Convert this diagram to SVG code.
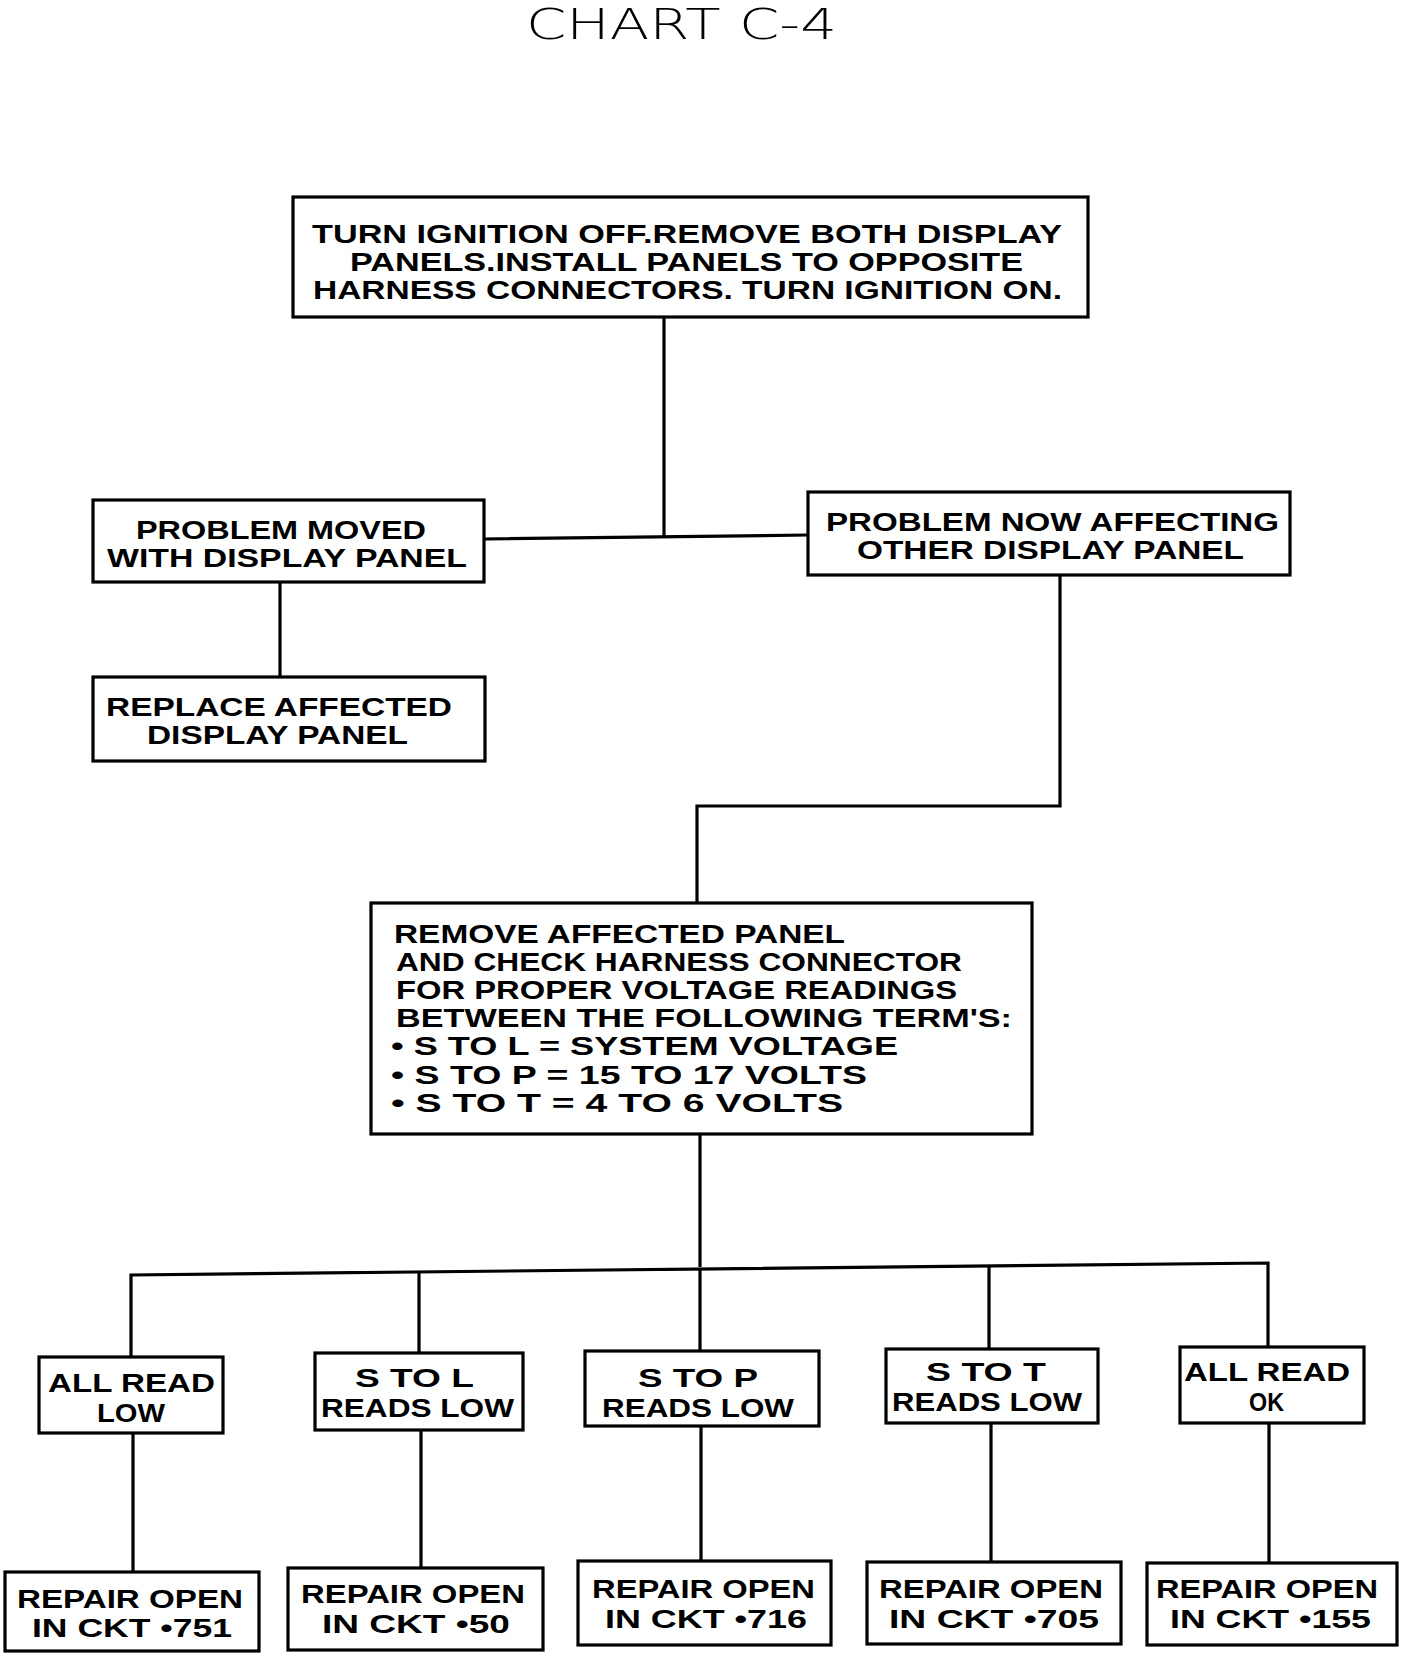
<svg xmlns="http://www.w3.org/2000/svg" width="1408" height="1656" viewBox="0 0 1408 1656">
<style>
.b{fill:#fff;stroke:#000;stroke-width:3.2}
.t{font-family:"Liberation Sans",Arial,sans-serif;font-weight:bold;font-size:25px;fill:#000}
.c{fill:none;stroke:#000;stroke-width:3.2}
.title{font-family:"DejaVu Sans","Liberation Sans",sans-serif;font-weight:200;font-size:42px;fill:#000}
</style>
<rect width="1408" height="1656" fill="#fff"/>
<text class="title" x="526" y="39" textLength="311" lengthAdjust="spacingAndGlyphs">CHART C-4</text>
<g id="connectors">
<path class="c" d="M664 317V537M484 539L808 535"/>
<path class="c" d="M280 582V677"/>
<path class="c" d="M1060 575V806H697V904"/>
<path class="c" d="M700 1134V1267"/>
<path class="c" d="M131 1357V1275L1268 1263V1347"/>
<path class="c" d="M419 1353V1272M700 1351V1269M989 1349V1266"/>
<path class="c" d="M133 1433V1572M421 1430V1568M701 1426V1561M991 1423V1562M1269 1423V1563"/>
</g>
<g id="n1"><rect class="b" x="293" y="197" width="795" height="120"/>
<text class="t" x="312" y="243" textLength="750" lengthAdjust="spacingAndGlyphs">TURN IGNITION OFF.REMOVE BOTH DISPLAY</text>
<text class="t" x="350" y="271" textLength="673" lengthAdjust="spacingAndGlyphs">PANELS.INSTALL PANELS TO OPPOSITE</text>
<text class="t" x="313" y="299" textLength="749" lengthAdjust="spacingAndGlyphs">HARNESS CONNECTORS. TURN IGNITION ON.</text></g>
<g id="n2"><rect class="b" x="93" y="500" width="391" height="82"/>
<text class="t" x="136" y="539" textLength="290" lengthAdjust="spacingAndGlyphs">PROBLEM MOVED</text>
<text class="t" x="107" y="567" textLength="360" lengthAdjust="spacingAndGlyphs">WITH DISPLAY PANEL</text></g>
<g id="n3"><rect class="b" x="93" y="677" width="392" height="84"/>
<text class="t" x="106" y="716" textLength="346" lengthAdjust="spacingAndGlyphs">REPLACE AFFECTED</text>
<text class="t" x="147" y="744" textLength="261" lengthAdjust="spacingAndGlyphs">DISPLAY PANEL</text></g>
<g id="n4"><rect class="b" x="808" y="492" width="482" height="83"/>
<text class="t" x="826" y="531" textLength="453" lengthAdjust="spacingAndGlyphs">PROBLEM NOW AFFECTING</text>
<text class="t" x="857" y="559" textLength="387" lengthAdjust="spacingAndGlyphs">OTHER DISPLAY PANEL</text></g>
<g id="n5"><rect class="b" x="371" y="903" width="661" height="231"/>
<text class="t" x="394" y="943" textLength="451" lengthAdjust="spacingAndGlyphs">REMOVE AFFECTED PANEL</text>
<text class="t" x="396" y="971" textLength="566" lengthAdjust="spacingAndGlyphs">AND CHECK HARNESS CONNECTOR</text>
<text class="t" x="396" y="999" textLength="561" lengthAdjust="spacingAndGlyphs">FOR PROPER VOLTAGE READINGS</text>
<text class="t" x="396" y="1027" textLength="616" lengthAdjust="spacingAndGlyphs">BETWEEN THE FOLLOWING TERM'S:</text>
<text class="t" x="391" y="1055" textLength="507" lengthAdjust="spacingAndGlyphs">• S TO L = SYSTEM VOLTAGE</text>
<text class="t" x="391" y="1084" textLength="476" lengthAdjust="spacingAndGlyphs">• S TO P = 15 TO 17 VOLTS</text>
<text class="t" x="391" y="1112" textLength="452" lengthAdjust="spacingAndGlyphs">• S TO T = 4 TO 6 VOLTS</text></g>
<g id="n6"><rect class="b" x="39" y="1357" width="184" height="76"/>
<text class="t" x="48" y="1392" textLength="167" lengthAdjust="spacingAndGlyphs">ALL READ</text>
<text class="t" x="97" y="1422" textLength="68" lengthAdjust="spacingAndGlyphs">LOW</text></g>
<g id="n7"><rect class="b" x="315" y="1353" width="208" height="77"/>
<text class="t" x="355" y="1387" textLength="119" lengthAdjust="spacingAndGlyphs">S TO L</text>
<text class="t" x="321" y="1417" textLength="193" lengthAdjust="spacingAndGlyphs">READS LOW</text></g>
<g id="n8"><rect class="b" x="585" y="1351" width="234" height="75"/>
<text class="t" x="638" y="1387" textLength="120" lengthAdjust="spacingAndGlyphs">S TO P</text>
<text class="t" x="602" y="1417" textLength="192" lengthAdjust="spacingAndGlyphs">READS LOW</text></g>
<g id="n9"><rect class="b" x="886" y="1349" width="212" height="74"/>
<text class="t" x="926" y="1381" textLength="120" lengthAdjust="spacingAndGlyphs">S TO T</text>
<text class="t" x="892" y="1411" textLength="190" lengthAdjust="spacingAndGlyphs">READS LOW</text></g>
<g id="n10"><rect class="b" x="1180" y="1347" width="184" height="76"/>
<text class="t" x="1184" y="1381" textLength="166" lengthAdjust="spacingAndGlyphs">ALL READ</text>
<text class="t" x="1249" y="1411" textLength="35" lengthAdjust="spacingAndGlyphs">OK</text></g>
<g id="n11"><rect class="b" x="5" y="1572" width="254" height="79"/>
<text class="t" x="17" y="1608" textLength="226" lengthAdjust="spacingAndGlyphs">REPAIR OPEN</text>
<text class="t" x="32" y="1637" textLength="200" lengthAdjust="spacingAndGlyphs">IN CKT •751</text></g>
<g id="n12"><rect class="b" x="288" y="1568" width="255" height="82"/>
<text class="t" x="301" y="1603" textLength="224" lengthAdjust="spacingAndGlyphs">REPAIR OPEN</text>
<text class="t" x="322" y="1633" textLength="188" lengthAdjust="spacingAndGlyphs">IN CKT •50</text></g>
<g id="n13"><rect class="b" x="578" y="1561" width="253" height="84"/>
<text class="t" x="592" y="1598" textLength="223" lengthAdjust="spacingAndGlyphs">REPAIR OPEN</text>
<text class="t" x="605" y="1628" textLength="202" lengthAdjust="spacingAndGlyphs">IN CKT •716</text></g>
<g id="n14"><rect class="b" x="867" y="1562" width="254" height="82"/>
<text class="t" x="879" y="1598" textLength="224" lengthAdjust="spacingAndGlyphs">REPAIR OPEN</text>
<text class="t" x="889" y="1628" textLength="210" lengthAdjust="spacingAndGlyphs">IN CKT •705</text></g>
<g id="n15"><rect class="b" x="1147" y="1563" width="250" height="82"/>
<text class="t" x="1156" y="1598" textLength="222" lengthAdjust="spacingAndGlyphs">REPAIR OPEN</text>
<text class="t" x="1170" y="1628" textLength="201" lengthAdjust="spacingAndGlyphs">IN CKT •155</text></g>
</svg>
